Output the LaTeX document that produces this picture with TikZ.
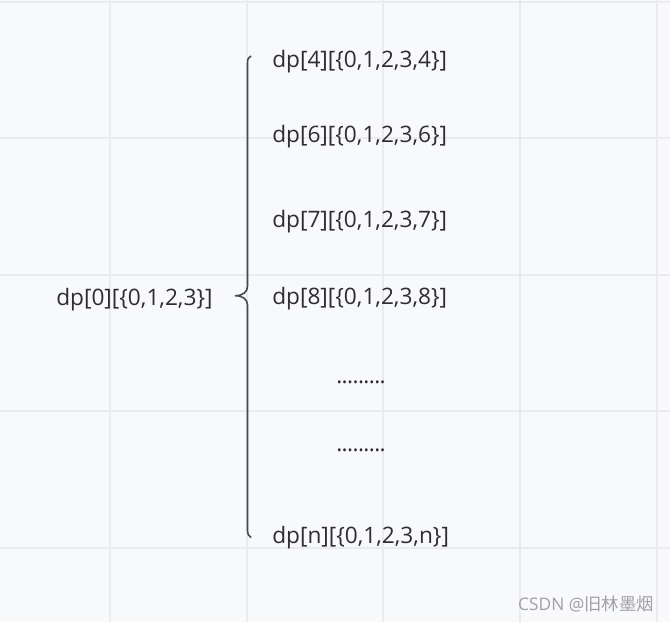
\documentclass[tikz,border=0pt]{standalone}
\usepackage{fontspec}
\setmainfont{Open Sans}
\newfontfamily\cjkfont{Noto Sans CJK SC}
\definecolor{bgpaper}{RGB}{248,249,251}
\definecolor{gridline}{RGB}{234,235,239}
\definecolor{inktext}{RGB}{45,45,50}
\definecolor{braceink}{RGB}{72,72,82}
\definecolor{markgray}{RGB}{160,160,165}
\newcommand{\tightdot}{.\kern-0.45pt}
\tikzset{
  dptext/.style={anchor=west,inner sep=0.75pt,text=inktext,font=\fontsize{17}{20}\selectfont},
}
\begin{document}
\begin{tikzpicture}[x=0.75pt,y=0.75pt,yscale=-1,xscale=1]
%set diagram left start at 0, and has height of 622
\useasboundingbox (0,0) rectangle (670,622);
\fill [bgpaper] (0,0) rectangle (670,622);

%Grid
\foreach \gx in {109.5,246.5,383,519.5,656.5} {
  \draw [gridline, line width=1.5] (\gx,0) -- (\gx,622);
}
\foreach \gy in {1.5,137.5,274.5,411,548} {
  \draw [gridline, line width=1.5] (0,\gy) -- (670,\gy);
}

%Shape: Brace
\draw [braceink, line width=1.2] (251,56) .. controls (248.5,57) and (247.5,59) .. (247.5,63) -- (247.5,286) .. controls (247.5,292) and (243,295.7) .. (235,295.7) .. controls (243,295.7) and (247.5,299.5) .. (247.5,305) -- (247.5,531) .. controls (247.5,534) and (248.5,536) .. (251,537.5) ;

% Text Node
\draw (55,300) node (dpzero) [dptext] {dp[0][\{0,1,2,3\}]};
% Text Node
\draw (271,61.5) node (dpfour) [dptext] {dp[4][\{0,1,2,3,4\}]};
% Text Node
\draw (271,137) node (dpsix) [dptext] {dp[6][\{0,1,2,3,6\}]};
% Text Node
\draw (271,222) node (dpseven) [dptext] {dp[7][\{0,1,2,3,7\}]};
% Text Node
\draw (271,299) node (dpeight) [dptext] {dp[8][\{0,1,2,3,8\}]};
% Text Node
\draw (335,382) node (dotsone) [dptext] {\tightdot\tightdot\tightdot\tightdot\tightdot\tightdot\tightdot\tightdot.};
% Text Node
\draw (335,450) node (dotstwo) [dptext] {\tightdot\tightdot\tightdot\tightdot\tightdot\tightdot\tightdot\tightdot.};
% Text Node
\draw (271,538) node (dpn) [dptext] {dp[n][\{0,1,2,3,n\}]};

% Text Node
\draw (655,604) node (mark) [anchor=east][inner sep=0.75pt] [text=markgray,font=\fontsize{13}{15}\selectfont] {CSDN @{\cjkfont 旧林墨烟}};

\end{tikzpicture}
\end{document}
